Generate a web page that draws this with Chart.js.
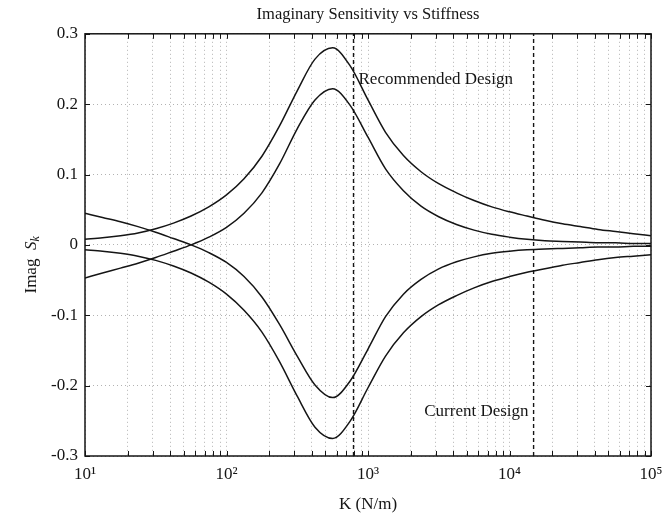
<!DOCTYPE html>
<html>
<head>
<meta charset="utf-8">
<title>Imaginary Sensitivity vs Stiffness</title>
<script src="https://cdn.jsdelivr.net/npm/chart.js@4.4.0/dist/chart.umd.min.js"></script>
<style>
    html, body { margin: 0; padding: 0; background: #fff; }
    #wrap { width: 672px; height: 519px; }
</style>
</head>
<body>
<div id="wrap"><canvas id="sensitivity-chart"></canvas></div>
<script>
// Stiffness samples K (N/m), eight per decade
const stiffness = [10, 13.3, 17.8, 23.7, 31.6, 42.2, 56.2, 75, 100, 133, 178, 237, 316, 422, 562, 750,
    1000, 1330, 1780, 2370, 3160, 4220, 5620, 7500, 10000, 13300, 17800, 23700, 31600, 42200, 56200, 75000, 100000];

// Imag S_k for the four modes
const upperOuter = [0.008, 0.010, 0.013, 0.017, 0.023, 0.031, 0.041, 0.054, 0.071, 0.094, 0.126, 0.169, 0.219, 0.264, 0.280, 0.254,
    0.206, 0.160, 0.127, 0.104, 0.087, 0.074, 0.063, 0.054, 0.047, 0.041, 0.035, 0.030, 0.026, 0.022, 0.019, 0.016, 0.013];
const upperInner = [-0.047, -0.040, -0.033, -0.026, -0.018, -0.009, 0.000, 0.011, 0.025, 0.045, 0.074, 0.115, 0.165, 0.206, 0.222, 0.198,
    0.153, 0.108, 0.077, 0.055, 0.040, 0.029, 0.021, 0.015, 0.011, 0.008, 0.006, 0.005, 0.004, 0.003, 0.003, 0.002, 0.002];
const lowerInner = [0.045, 0.039, 0.033, 0.026, 0.018, 0.009, 0.000, -0.011, -0.025, -0.045, -0.074, -0.113, -0.158, -0.199, -0.217, -0.193,
    -0.148, -0.102, -0.070, -0.049, -0.034, -0.024, -0.017, -0.012, -0.009, -0.007, -0.006, -0.005, -0.004, -0.003, -0.003, -0.002, -0.002];
const lowerOuter = [-0.007, -0.009, -0.012, -0.016, -0.022, -0.030, -0.040, -0.053, -0.070, -0.093, -0.124, -0.166, -0.215, -0.259, -0.275, -0.250,
    -0.203, -0.158, -0.125, -0.102, -0.085, -0.072, -0.061, -0.052, -0.045, -0.039, -0.034, -0.029, -0.025, -0.021, -0.018, -0.016, -0.014];

// Design stiffness markers
const recommendedK = 790;
const currentK = 14800;

const decadeLabels = ['10\u00b9', '10\u00b2', '10\u00b3', '10\u2074', '10\u2075'];
const yRange = [-0.3, 0.3];

const serif = '"Liberation Serif", "DejaVu Serif", serif';
const ink = '#151515';

function toPoints(values) {
    return stiffness.map((k, i) => ({ x: k, y: values[i] }));
}

function curve(values) {
    return {
        data: toPoints(values),
        borderColor: ink,
        borderWidth: 1.5,
        pointRadius: 0,
        cubicInterpolationMode: 'monotone',
        fill: false
    };
}

function designLine(k) {
    return {
        data: [{ x: k, y: yRange[0] }, { x: k, y: yRange[1] }],
        borderColor: ink,
        borderWidth: 1.4,
        borderDash: [4, 3],
        pointRadius: 0,
        fill: false
    };
}

// 1..9 x 10^n positions for the log grid
function logTicks() {
    const ticks = [];
    for (let e = 1; e < 5; e++) {
        for (let m = 1; m < 10; m++) {
            ticks.push({ value: m * Math.pow(10, e) });
        }
    }
    ticks.push({ value: 100000 });
    return ticks;
}

// box frame, inward tick marks, y title and design labels
const framePlugin = {
    id: 'frame',
    afterDatasetsDraw(chart) {
        const { ctx, chartArea: a, scales: { x, y } } = chart;
        ctx.save();
        ctx.strokeStyle = ink;
        ctx.lineWidth = 1;
        ctx.beginPath();
        x.ticks.forEach(t => {
            const px = Math.round(x.getPixelForValue(t.value)) + 0.5;
            ctx.moveTo(px, a.bottom);
            ctx.lineTo(px, a.bottom - 5);
            ctx.moveTo(px, a.top);
            ctx.lineTo(px, a.top + 5);
        });
        y.ticks.forEach(t => {
            const py = Math.round(y.getPixelForValue(t.value)) + 0.5;
            ctx.moveTo(a.left, py);
            ctx.lineTo(a.left + 5, py);
            ctx.moveTo(a.right, py);
            ctx.lineTo(a.right - 5, py);
        });
        ctx.stroke();

        ctx.lineWidth = 1.5;
        ctx.strokeRect(a.left, a.top, a.right - a.left, a.bottom - a.top);

        // labels next to the design markers
        ctx.fillStyle = ink;
        ctx.font = '17px ' + serif;
        ctx.textBaseline = 'middle';
        ctx.textAlign = 'left';
        ctx.fillText('Recommended Design', x.getPixelForValue(recommendedK) + 5, y.getPixelForValue(0.235));
        ctx.textAlign = 'right';
        ctx.fillText('Current Design', x.getPixelForValue(currentK) - 5, y.getPixelForValue(-0.237));

        // y axis title: Imag S_k
        const mid = (a.top + a.bottom) / 2 + 20;
        const plain = '17px ' + serif;
        const ital = 'italic 17px ' + serif;
        const sub = 'italic 12px ' + serif;
        ctx.font = plain;
        const w1 = ctx.measureText('Imag  ').width;
        ctx.font = ital;
        const w2 = ctx.measureText('S').width;
        ctx.font = sub;
        const w3 = ctx.measureText('k').width;
        const total = w1 + w2 + w3;
        ctx.translate(31, mid);
        ctx.rotate(-Math.PI / 2);
        ctx.textAlign = 'left';
        ctx.textBaseline = 'alphabetic';
        let cx = -total / 2;
        ctx.font = plain;
        ctx.fillText('Imag  ', cx, 5);
        cx += w1;
        ctx.font = ital;
        ctx.fillText('S', cx, 5);
        cx += w2;
        ctx.font = sub;
        ctx.fillText('k', cx, 8);
        ctx.restore();
    }
};

window.addEventListener('load', function() {
    new Chart(document.getElementById('sensitivity-chart'), {
        type: 'line',
        data: {
            datasets: [
                curve(upperOuter),
                curve(upperInner),
                curve(lowerInner),
                curve(lowerOuter),
                designLine(recommendedK),
                designLine(currentK)
            ]
        },
        options: {
            responsive: true,
            maintainAspectRatio: false,
            animation: false,
            layout: { padding: { right: 21, left: 0, top: 0, bottom: 0 } },
            plugins: {
                legend: { display: false },
                tooltip: { enabled: false },
                title: {
                    display: true,
                    text: 'Imaginary Sensitivity vs Stiffness',
                    fullSize: false,
                    color: ink,
                    font: { family: serif, size: 16.5, weight: 'normal' },
                    padding: { top: 5, bottom: 9 }
                }
            },
            scales: {
                x: {
                    type: 'logarithmic',
                    min: 10,
                    max: 100000,
                    afterBuildTicks: scale => { scale.ticks = logTicks(); },
                    afterFit: scale => { scale.height = 63; },
                    grid: { color: 'rgba(0,0,0,0.3)', lineWidth: 1, drawTicks: false },
                    border: { display: false, dash: [1, 3] },
                    ticks: {
                        autoSkip: false,
                        maxRotation: 0,
                        padding: 8,
                        color: ink,
                        font: { family: serif, size: 17 },
                        callback: value => {
                            const e = Math.log10(value);
                            return Math.abs(e - Math.round(e)) < 1e-9 ? decadeLabels[Math.round(e) - 1] : '';
                        }
                    },
                    title: {
                        display: true,
                        text: 'K (N/m)',
                        color: ink,
                        font: { family: serif, size: 17 },
                        padding: { top: 4, bottom: 4 }
                    }
                },
                y: {
                    min: yRange[0],
                    max: yRange[1],
                    afterFit: scale => { scale.width = 85; },
                    grid: { color: 'rgba(0,0,0,0.3)', lineWidth: 1, drawTicks: false },
                    border: { display: false, dash: [1, 3] },
                    ticks: {
                        stepSize: 0.1,
                        padding: 7,
                        color: ink,
                        font: { family: serif, size: 17 },
                        callback: value => Math.abs(value) < 1e-9 ? '0' : value.toFixed(1)
                    }
                }
            }
        },
        plugins: [framePlugin]
    });
});
</script>
</body>
</html>
